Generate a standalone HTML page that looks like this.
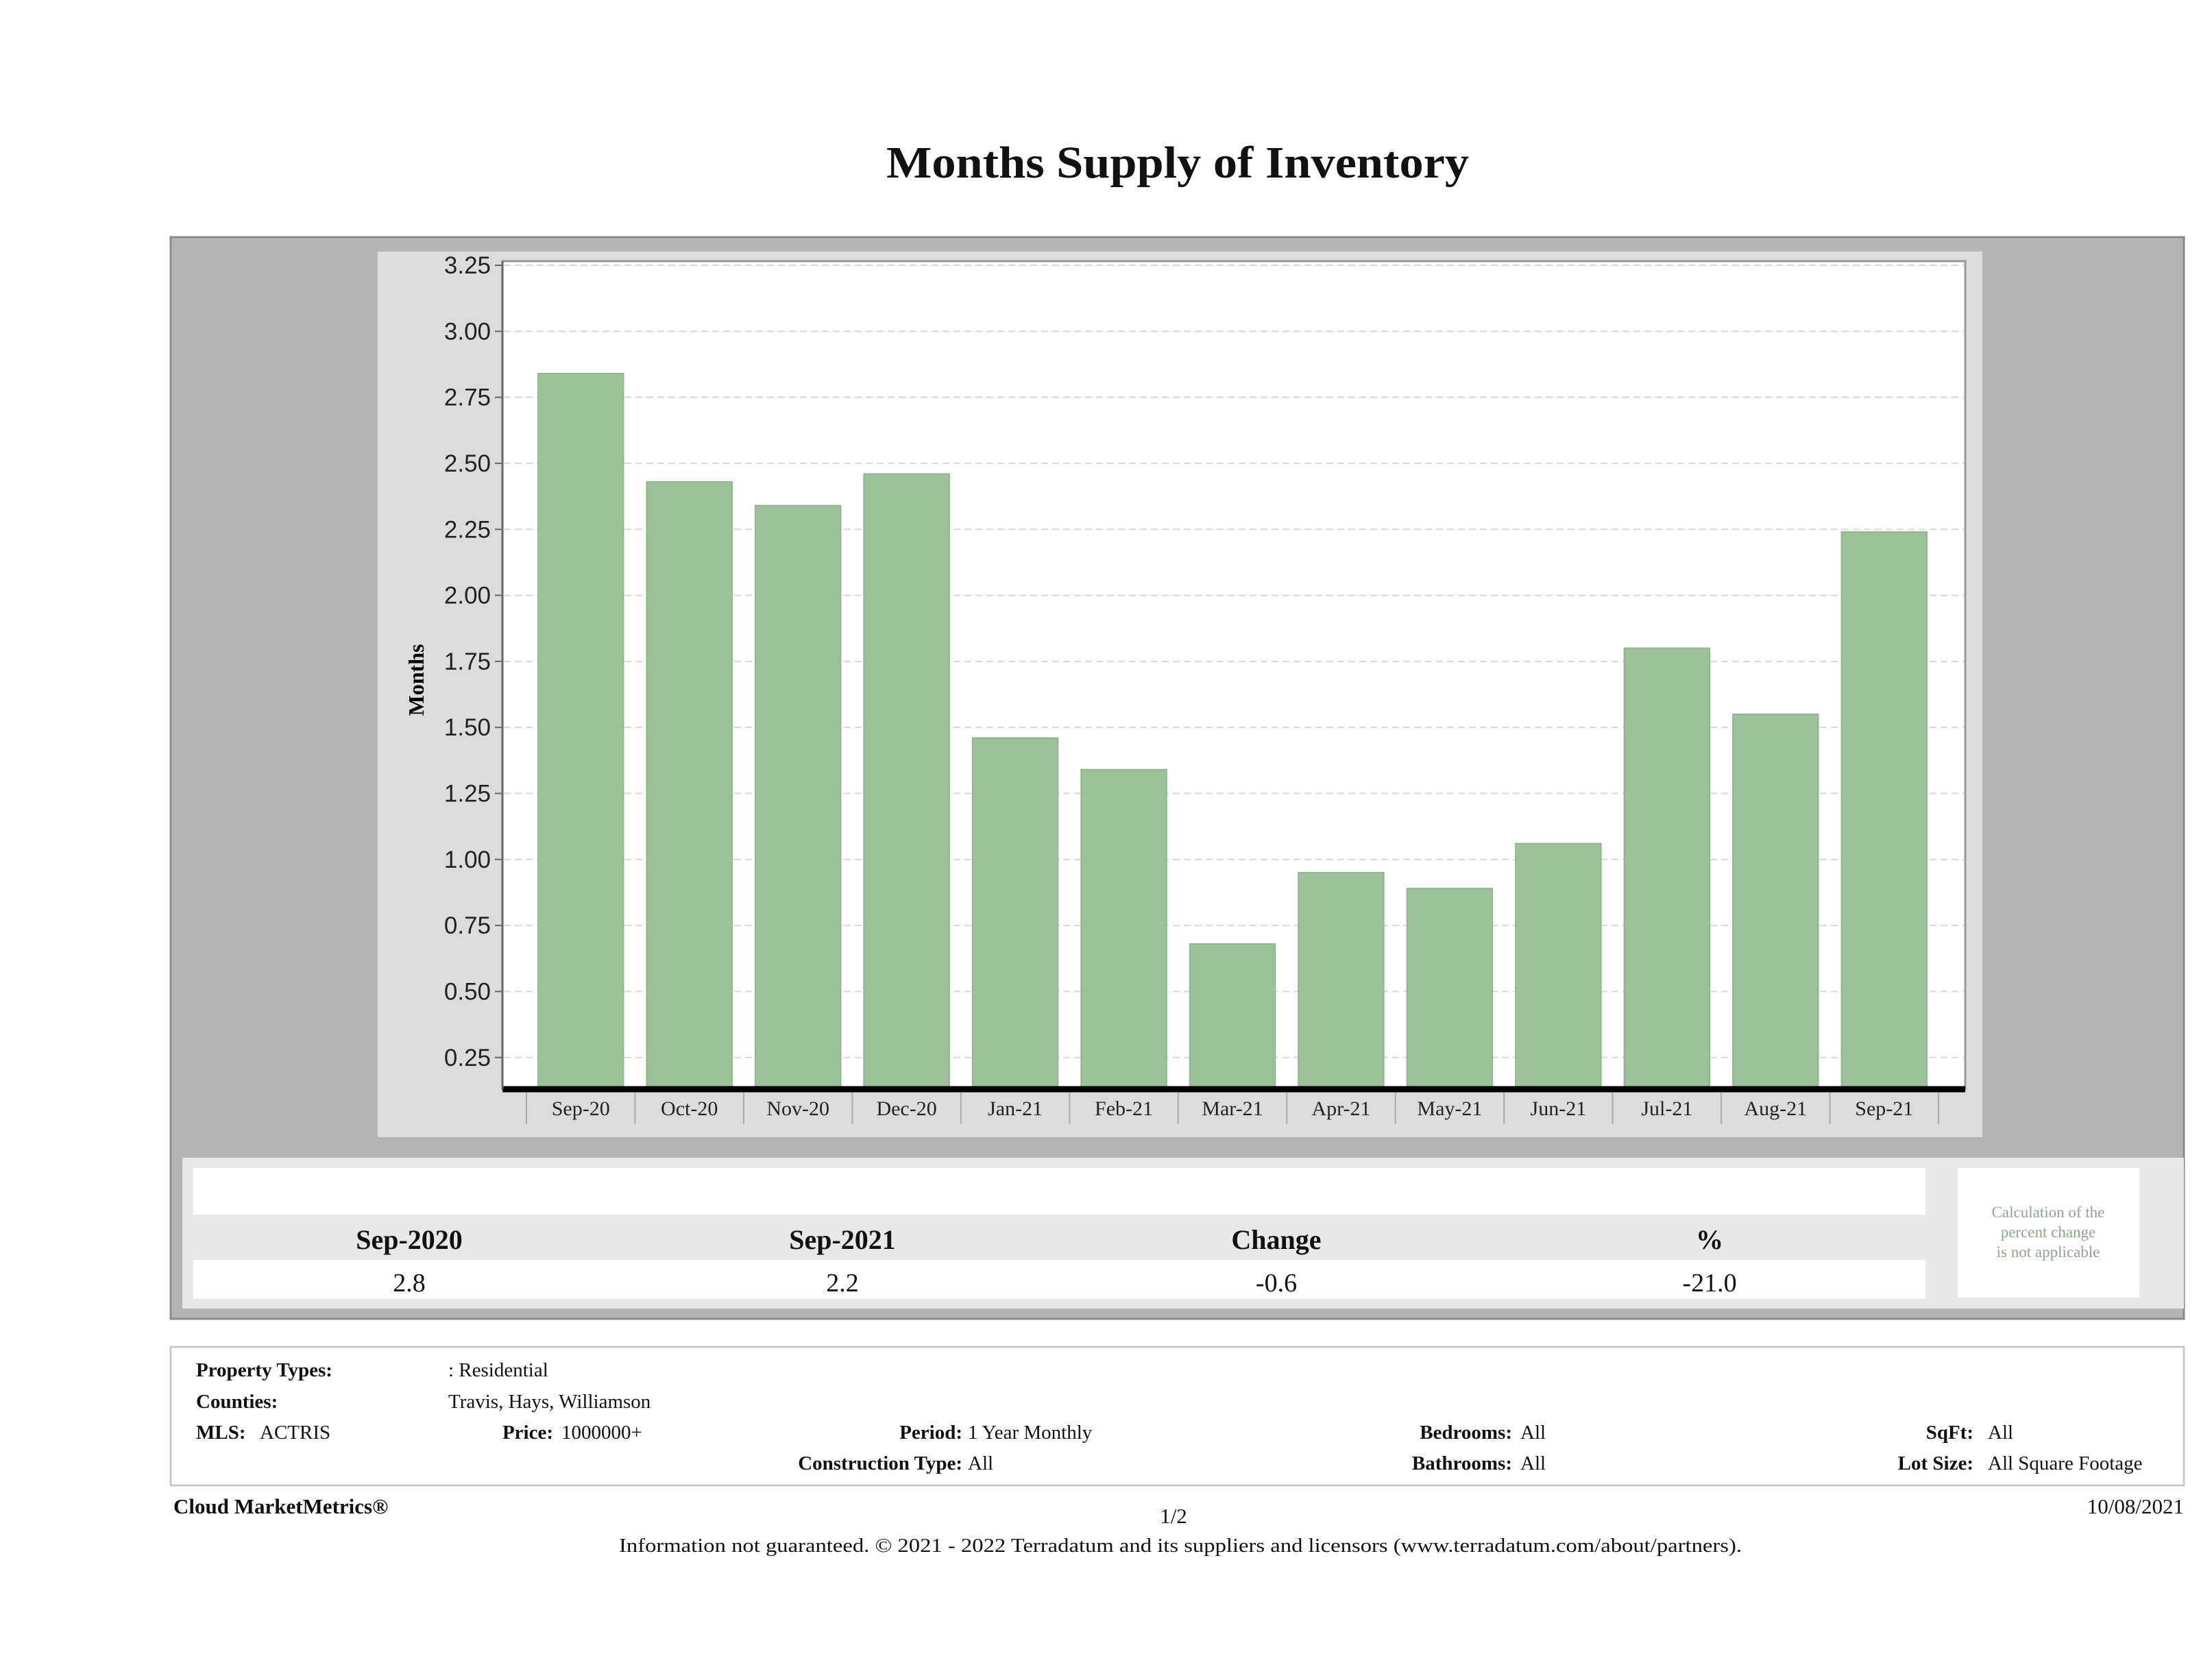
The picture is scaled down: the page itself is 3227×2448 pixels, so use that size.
<!DOCTYPE html>
<html><head><meta charset="utf-8"><style>
html,body{margin:0;padding:0;background:#fff;}
svg{display:block;}
.serif{font-family:"Liberation Serif",serif;}
.sans{font-family:"Liberation Sans",sans-serif;}
</style></head><body>
<svg id="page" width="3227" height="2448" viewBox="0 0 3227 2448" xmlns="http://www.w3.org/2000/svg">
<text class="serif" x="1718" y="259" font-size="66" font-weight="bold" text-anchor="middle" fill="#111" textLength="850" lengthAdjust="spacingAndGlyphs">Months Supply of Inventory</text>
<rect x="249" y="346" width="2937" height="1578" fill="#b4b4b4" stroke="#8a8a8a" stroke-width="3"/>
<rect x="551" y="367" width="2341" height="1292" fill="#dcdcdc"/>
<rect x="733" y="381" width="2134" height="1208" fill="#fff" stroke="#999" stroke-width="3"/>
<g id="grid"></g>
<g id="bars"></g>
<g id="yaxis"></g>
<g id="xaxis"></g>
<line x1="733" y1="1589" x2="2867" y2="1589" stroke="#000" stroke-width="9"/>
<line x1="733" y1="381" x2="733" y2="1589" stroke="#666" stroke-width="3"/>
<text class="serif" font-size="32" font-weight="bold" text-anchor="middle" transform="translate(618,992) rotate(-90)">Months</text>

<rect x="266" y="1689" width="2920" height="220" fill="#e8e8e8"/>
<rect x="282" y="1704" width="2527" height="68" fill="#fff"/>
<rect x="282" y="1838" width="2527" height="57" fill="#fff"/>
<g class="serif" font-size="40" font-weight="bold" text-anchor="middle" fill="#111">
<text x="597" y="1822">Sep-2020</text>
<text x="1229" y="1822">Sep-2021</text>
<text x="1862" y="1822">Change</text>
<text x="2494" y="1822">%</text>
</g>
<g class="serif" font-size="38" text-anchor="middle" fill="#111">
<text x="597" y="1884">2.8</text>
<text x="1229" y="1884">2.2</text>
<text x="1862" y="1884">-0.6</text>
<text x="2494" y="1884">-21.0</text>
</g>
<rect x="2856" y="1704" width="265" height="189" fill="#fff"/>
<g class="serif" font-size="23" text-anchor="middle" fill="#8aa88a">
<text x="2988" y="1776">Calculation of the</text>
<text x="2988" y="1805">percent change</text>
<text x="2988" y="1834">is not applicable</text>
</g>

<rect x="249" y="1965" width="2937" height="202" fill="#fff" stroke="#c8c8c8" stroke-width="3"/>
<g class="serif" font-size="29" fill="#111">
<text x="286" y="2008" font-weight="bold">Property Types:</text><text x="654" y="2008">: Residential</text>
<text x="286" y="2054" font-weight="bold">Counties:</text><text x="654" y="2054">Travis, Hays, Williamson</text>
<text x="286" y="2099" font-weight="bold">MLS:</text><text x="379" y="2099">ACTRIS</text>
<text x="807" y="2099" font-weight="bold" text-anchor="end">Price:</text><text x="819" y="2099">1000000+</text>
<text x="1404" y="2099" font-weight="bold" text-anchor="end">Period:</text><text x="1412" y="2099">1 Year Monthly</text>
<text x="2206" y="2099" font-weight="bold" text-anchor="end">Bedrooms:</text><text x="2218" y="2099">All</text>
<text x="2879" y="2099" font-weight="bold" text-anchor="end">SqFt:</text><text x="2900" y="2099">All</text>
<text x="1404" y="2144" font-weight="bold" text-anchor="end">Construction Type:</text><text x="1412" y="2144">All</text>
<text x="2206" y="2144" font-weight="bold" text-anchor="end">Bathrooms:</text><text x="2218" y="2144">All</text>
<text x="2879" y="2144" font-weight="bold" text-anchor="end">Lot Size:</text><text x="2900" y="2144">All Square Footage</text>
</g>
<g class="serif" font-size="31" fill="#111">
<text x="253" y="2208" font-weight="bold">Cloud MarketMetrics®</text>
<text x="1712" y="2222" text-anchor="middle">1/2</text>
<text x="3186" y="2208" text-anchor="end">10/08/2021</text>
<text x="1722" y="2264" text-anchor="middle" font-size="29" textLength="1638" lengthAdjust="spacingAndGlyphs">Information not guaranteed. © 2021 - 2022 Terradatum and its suppliers and licensors (www.terradatum.com/about/partners).</text>
</g>
</svg>
<script>
const categories = ["Sep-20","Oct-20","Nov-20","Dec-20","Jan-21","Feb-21","Mar-21","Apr-21","May-21","Jun-21","Jul-21","Aug-21","Sep-21"];
const months = [2.84,2.43,2.34,2.46,1.46,1.34,0.68,0.95,0.89,1.06,1.80,1.55,2.24];
const yTicks = [0.25,0.50,0.75,1.00,1.25,1.50,1.75,2.00,2.25,2.50,2.75,3.00,3.25];
const yTickLabels = ["0.25","0.50","0.75","1.00","1.25","1.50","1.75","2.00","2.25","2.50","2.75","3.00","3.25"];

const NS = "http://www.w3.org/2000/svg";
const yMin = 0.13, yMax = 3.25, yTop = 387, yBot = 1589;
function y(v){ return yBot - (v - yMin) / (yMax - yMin) * (yBot - yTop); }
const xStart = 768, xEnd = 2828;
const bw = (xEnd - xStart) / categories.length;
function x(i){ return xStart + i * bw; }
function mk(tag, attrs, parent){
  const e = document.createElementNS(NS, tag);
  for (const k in attrs) e.setAttribute(k, attrs[k]);
  parent.appendChild(e); return e;
}
const grid = document.getElementById('grid'), bars = document.getElementById('bars');
const ya = document.getElementById('yaxis'), xa = document.getElementById('xaxis');
yTicks.forEach((t, i) => {
  const g = mk('line', {x1:735, x2:2865, y1:y(t), y2:y(t), stroke:'#d8d8d8', 'stroke-width':2, 'stroke-dasharray':'10,6'}, grid);
  
  
  const tk = mk('line', {x1:722, x2:733, y1:y(t), y2:y(t), stroke:'#666', 'stroke-width':2}, ya);
  
  
  const lb = mk('text', {x:716, y:y(t)+12, 'text-anchor':'end', 'font-size':35, 'font-family':'"Liberation Sans", sans-serif', fill:'#222'}, ya);
  lb.textContent = yTickLabels[i];
  
  
});
months.forEach((v, i) => {
  const r = mk('rect', {x:x(i)+17, y:y(v), width:bw-34, height:yBot - y(v), fill:'#9dc29a', stroke:'#8fb68c', 'stroke-width':2}, bars);
  
  
});
for (let i = 0; i <= categories.length; i++) {
  const s = mk('line', {x1:x(i), x2:x(i), y1:1594, y2:1640, stroke:'#aaa', 'stroke-width':2}, xa);
  
  
}
categories.forEach((c, i) => {
  const t = mk('text', {x:x(i)+bw/2, y:1627, 'text-anchor':'middle', 'font-size':30, 'font-family':'"Liberation Serif", serif', fill:'#222'}, xa);
  t.textContent = c;
  
  
});
</script>
</body></html>
